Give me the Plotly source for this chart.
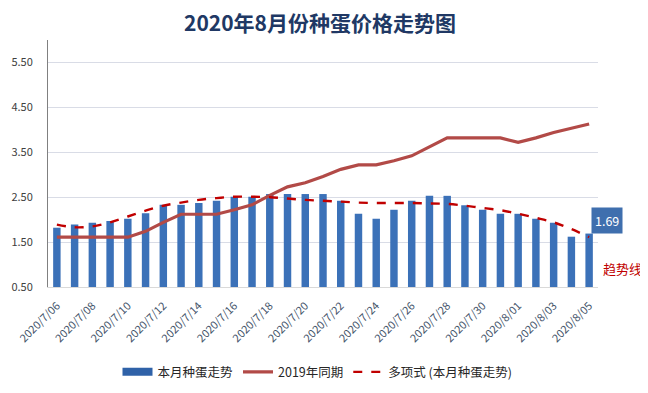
import plotly.graph_objects as go

dates = [f"2020/7/{d:02d}" for d in range(6, 32)] + [f"2020/8/{d:02d}" for d in range(1, 6)]

price_2020 = [1.82, 1.89, 1.93, 1.97, 2.02, 2.14, 2.33, 2.33, 2.37, 2.42,
              2.51, 2.51, 2.57, 2.57, 2.57, 2.57, 2.42, 2.13, 2.02, 2.22,
              2.42, 2.53, 2.53, 2.32, 2.22, 2.13, 2.13, 2.02, 1.93, 1.62, 1.69]

price_2019 = [1.61, 1.61, 1.61, 1.61, 1.61, 1.74, 1.94, 2.12, 2.12, 2.12,
              2.22, 2.33, 2.54, 2.73, 2.82, 2.96, 3.12, 3.22, 3.22, 3.31,
              3.42, 3.62, 3.82, 3.82, 3.82, 3.82, 3.72, 3.82, 3.94, 4.03, 4.13]

trend = [1.89, 1.83, 1.85, 1.94, 2.07, 2.20, 2.31, 2.38, 2.44, 2.48,
         2.51, 2.51, 2.50, 2.47, 2.44, 2.42, 2.40, 2.38, 2.37, 2.37,
         2.37, 2.36, 2.35, 2.31, 2.26, 2.21, 2.13, 2.04, 1.94, 1.79, 1.61]

tick_labels = dates[::2]
y_ticks = [0.5, 1.5, 2.5, 3.5, 4.5, 5.5]

FONT = "Noto Sans CJK SC"
BAR_COLOR = "#3B71B8"

fig = go.Figure()
fig.add_trace(go.Bar(x=dates, y=price_2020, name="本月种蛋走势",
                     marker=dict(color=BAR_COLOR, line=dict(width=0)),
                     width=0.42, showlegend=False))
# legend entry for the bar series (wide flat swatch, as in the reference)
fig.add_trace(go.Scatter(x=[None], y=[None], name="本月种蛋走势", mode="lines",
                         line=dict(color="#2F62A8", width=8), showlegend=True))
fig.add_trace(go.Scatter(x=dates, y=price_2019, name="2019年同期", mode="lines",
                         line=dict(color="#B24A47", width=3.2)))
fig.add_trace(go.Scatter(x=dates, y=trend, name="多项式 (本月种蛋走势)", mode="lines",
                         line=dict(color="#C00000", width=2.4, dash="dash", shape="spline")))

fig.add_annotation(xref="paper", x=1.0, xshift=9, xanchor="center", yref="y", y=1.97,
                   text=f"{price_2020[-1]:.2f}", showarrow=False,
                   bgcolor="#3F6FAE", font=dict(color="white", size=12.5, family=FONT),
                   borderpad=3)
fig.add_annotation(xref="paper", x=1.045, xanchor="center", yref="y", y=0.92,
                   text="趋势线", showarrow=False,
                   font=dict(color="#C00000", size=13, family=FONT))

# page body has an 8px default margin, so the figure sits at (8, 8);
# keep the figure inside the 648x393 viewport
W, H = 640, 385
fig.update_layout(
    width=W, height=H,
    margin=dict(l=40, r=50, t=32, b=106, autoexpand=False),
    paper_bgcolor="white", plot_bgcolor="white",
    font=dict(family=FONT, color="#404040"),
    title=dict(text="<b>2020年8月份种蛋价格走势图</b>", x=(320 - 8) / W, xanchor="center",
               y=1 - 16 / H, yanchor="middle", yref="container",
               font=dict(size=21, color="#203864", family=FONT)),
    showlegend=True,
    legend=dict(orientation="h", x=0.49, xanchor="center", y=-0.345, yanchor="middle",
                font=dict(size=12.5, color="#262626", family=FONT),
                itemwidth=30, tracegroupgap=0),
    bargap=0.58,
)
fig.update_xaxes(type="category", tickmode="array", tickvals=tick_labels, ticktext=tick_labels,
                 tickangle=-45, tickfont=dict(size=11, color="#44546A", family=FONT),
                 showgrid=False, showline=True, linecolor="#D9D9D9", linewidth=1,
                 ticks="", range=[-0.5, 30.5], automargin=False, ticklabelstandoff=7)
fig.update_yaxes(range=[0.5, 6.0], tickmode="array", tickvals=y_ticks,
                 ticktext=[f"{v:.2f}" for v in y_ticks],
                 tickfont=dict(size=11, color="#404040", family=FONT),
                 showgrid=True, gridcolor="#D9DCE6", gridwidth=1,
                 showline=True, linecolor="#808080", linewidth=1,
                 zeroline=False, ticks="", ticklabelstandoff=12, automargin=False)

fig.write_html("out.html")
